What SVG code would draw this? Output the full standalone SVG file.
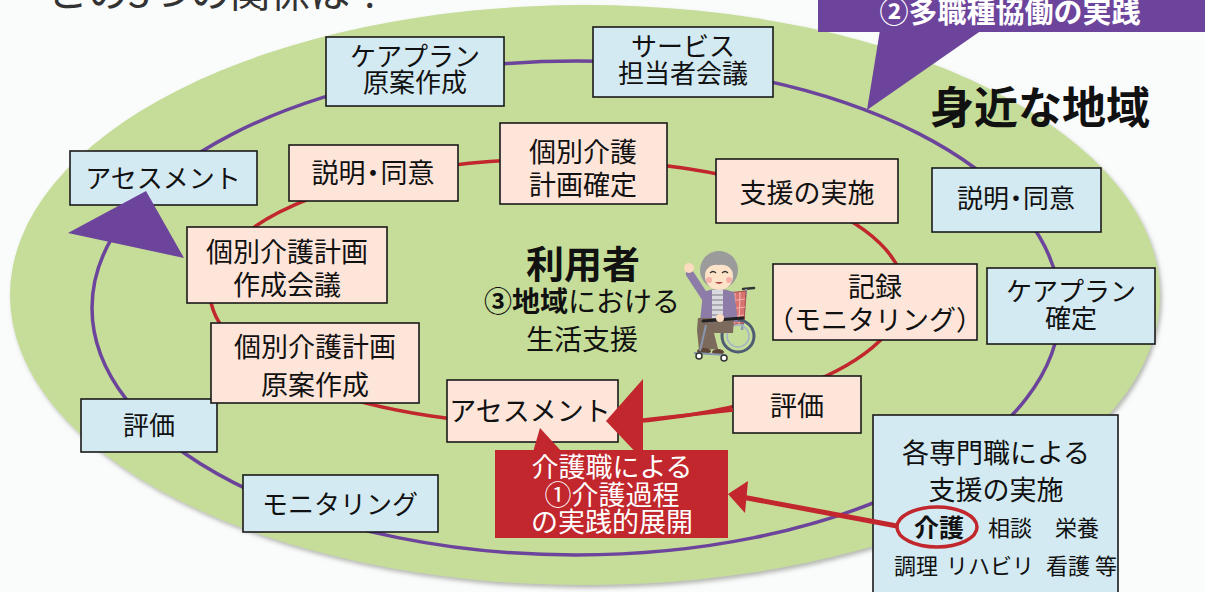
<svg xmlns="http://www.w3.org/2000/svg" width="1205" height="592" viewBox="0 0 1205 592">
  <defs>
    <style>
      text { font-family: "Noto Sans CJK JP", "Noto Sans", sans-serif; fill: #111; }
      .lbl { font-size: 26px; text-anchor: middle; }
      .lbp { font-size: 27px; text-anchor: middle; }
      .blue { fill: #d3eaf2; stroke: #1a1a1a; stroke-width: 1.6; }
      .pink { fill: #fde5d9; stroke: #1a1a1a; stroke-width: 1.6; }
      .ring-outer { fill: none; stroke: #6c449c; stroke-width: 3.5; }
      .ring-inner { fill: none; stroke: #c1272d; stroke-width: 3.5; }
      .white { fill: #ffffff; }
      .sm { font-size: 22px; text-anchor: middle; }
    </style>
    <filter id="soft-shadow" x="-5%" y="-5%" width="110%" height="115%">
      <feDropShadow dx="2" dy="3" stdDeviation="2" flood-color="#7d8275" flood-opacity="0.55"/>
    </filter>
  </defs>

  <!-- page background -->
  <rect x="0" y="0" width="1205" height="592" fill="#fafbfb"/>

  <!-- heading, partly above the top edge -->
  <text x="48" y="7" style="font-size:40px;fill:#333">この3つの関係は？</text>

  <!-- local area -->
  <ellipse id="area" cx="585" cy="295" rx="575" ry="290" fill="#c5dd98" filter="url(#soft-shadow)"/>

  <!-- cycle lines -->
  <g id="connectors">
    <ellipse class="ring-outer" cx="576" cy="308" rx="484" ry="247"/>
    <ellipse class="ring-inner" cx="557" cy="292" rx="347" ry="133"/>
  </g>

  <!-- outer cycle: team work -->
  <g id="n-careplan-draft">
    <rect class="blue" x="326" y="37" width="178" height="69"/>
    <text class="lbl" x="415" y="66">ケアプラン</text>
    <text class="lbl" x="415" y="92">原案作成</text>
  </g>
  <g id="n-service-meeting">
    <rect class="blue" x="593" y="27" width="180" height="70"/>
    <text class="lbl" x="683" y="56">サービス</text>
    <text class="lbl" x="683" y="83">担当者会議</text>
  </g>
  <g id="n-assess-outer">
    <rect class="blue" x="70" y="151" width="187" height="54"/>
    <text class="lbl" x="163" y="188">アセスメント</text>
  </g>
  <g id="n-explain-outer">
    <rect class="blue" x="932" y="168" width="169" height="64"/>
    <text class="lbl" x="1016" y="208">説明<tspan dx="-6">・</tspan><tspan dx="-6">同意</tspan></text>
  </g>
  <g id="n-careplan-fixed">
    <rect class="blue" x="987" y="268" width="168" height="76"/>
    <text class="lbl" x="1071" y="301">ケアプラン</text>
    <text class="lbl" x="1071" y="328">確定</text>
  </g>
  <g id="n-eval-outer">
    <rect class="blue" x="81" y="399" width="136" height="53"/>
    <text class="lbl" x="149" y="435">評価</text>
  </g>
  <g id="n-monitoring">
    <rect class="blue" x="243" y="475" width="195" height="57"/>
    <text class="lbl" x="340" y="514">モニタリング</text>
  </g>

  <!-- inner cycle: care process -->
  <g id="n-explain-inner">
    <rect class="pink" x="289" y="145" width="169" height="56"/>
    <text class="lbp" x="373" y="183">説明<tspan dx="-6">・</tspan><tspan dx="-6">同意</tspan></text>
  </g>
  <g id="n-plan-fixed">
    <rect class="pink" x="500" y="123" width="167" height="81"/>
    <text class="lbp" x="583" y="162">個別介護</text>
    <text class="lbp" x="583" y="195">計画確定</text>
  </g>
  <g id="n-support">
    <rect class="pink" x="716" y="159" width="182" height="64"/>
    <text class="lbp" x="807" y="203">支援の実施</text>
  </g>
  <g id="n-plan-meeting">
    <rect class="pink" x="187" y="227" width="200" height="76"/>
    <text class="lbp" x="287" y="262">個別介護計画</text>
    <text class="lbp" x="287" y="295">作成会議</text>
  </g>
  <g id="n-record">
    <rect class="pink" x="773" y="264" width="204" height="76"/>
    <text class="lbp" x="875" y="297">記録</text>
    <text class="lbp" x="875" y="330">（モニタリング）</text>
  </g>
  <g id="n-plan-draft">
    <rect class="pink" x="211" y="323" width="208" height="80"/>
    <text class="lbp" x="315" y="357">個別介護計画</text>
    <text class="lbp" x="315" y="395">原案作成</text>
  </g>
  <g id="n-assess-inner">
    <rect class="pink" x="447" y="380" width="171" height="62"/>
    <text class="lbp" x="530" y="421">アセスメント</text>
  </g>
  <g id="n-eval-inner">
    <rect class="pink" x="733" y="376" width="128" height="57"/>
    <text class="lbp" x="797" y="416">評価</text>
  </g>

  <!-- user in the middle -->
  <g id="n-user">
    <text x="583" y="278" style="font-size:38px;font-weight:bold;text-anchor:middle">利用者</text>
    <text x="582" y="312" style="font-size:28px;text-anchor:middle"><tspan font-weight="bold">③地域</tspan>における</text>
    <text x="582" y="350" style="font-size:28px;text-anchor:middle">生活支援</text>
  </g>

  <!-- person in a wheelchair -->
  <g id="wheelchair-user">
    <!-- chair back and handle -->
    <line x1="743" y1="289" x2="754" y2="288" stroke="#333" stroke-width="2.5" stroke-linecap="round"/>
    <line x1="746" y1="289" x2="742" y2="330" stroke="#8897ad" stroke-width="2.5"/>
    <path d="M727 293 L746 291 L744 323 L729 325 Z" fill="#d9736f" stroke="#a84f4d" stroke-width="1"/>
    <path d="M730 301 L745 299 M730 309 L745 307 M730 317 L744 315 M735 293 L734 324 M740 292 L739 324" stroke="#f2b3ad" stroke-width="1.2"/>
    <!-- big wheel -->
    <circle cx="738" cy="336" r="16" fill="none" stroke="#4f5d73" stroke-width="3"/>
    <circle cx="738" cy="336" r="11" fill="none" stroke="#a4b2c8" stroke-width="1.5"/>
    <!-- body -->
    <path d="M703 292 Q718 286 734 292 L738 322 L700 322 Z" fill="#8d7ba8"/>
    <rect x="712" y="290" width="11" height="30" fill="#d9d9df"/>
    <path d="M712 295 H723 M712 300 H723 M712 305 H723 M712 310 H723 M712 315 H723" stroke="#9a9aa4" stroke-width="1.5"/>
    <!-- legs -->
    <path d="M698 318 L734 318 L733 333 L714 333 L718 349 L699 350 L697 330 Z" fill="#7c6a5c"/>
    <ellipse cx="704" cy="351" rx="7" ry="3" fill="#5e4636"/>
    <ellipse cx="718" cy="352" rx="6" ry="3" fill="#5e4636"/>
    <!-- armrest and front frame -->
    <line x1="703" y1="321" x2="743" y2="318" stroke="#222" stroke-width="3" stroke-linecap="round"/>
    <line x1="706" y1="325" x2="700" y2="351" stroke="#8897ad" stroke-width="2"/>
    <line x1="694" y1="353" x2="726" y2="355" stroke="#8897ad" stroke-width="2"/>
    <circle cx="699" cy="356" r="3" fill="#fff" stroke="#333" stroke-width="1.5"/>
    <circle cx="724" cy="358" r="3" fill="#fff" stroke="#333" stroke-width="1.5"/>
    <!-- raised arm -->
    <path d="M705 297 L690 274" stroke="#8d7ba8" stroke-width="8" stroke-linecap="round"/>
    <circle cx="689" cy="268" r="5" fill="#fbdcc0"/>
    <circle cx="720" cy="318" r="4" fill="#fbdcc0"/>
    <!-- head -->
    <circle cx="719" cy="270" r="19" fill="#9b9b9b"/>
    <ellipse cx="719" cy="276" rx="14" ry="14" fill="#fde3c8"/>
    <path d="M705 272 Q711 257 719 262 Q728 257 733 272 Q728 263 719 265 Q710 263 705 272 Z" fill="#9b9b9b"/>
    <path d="M710 273 q3 -3 6 0 M722 273 q3 -3 6 0" fill="none" stroke="#333" stroke-width="1.3"/>
    <circle cx="709" cy="280" r="3" fill="#f6b1a8"/>
    <circle cx="729" cy="280" r="3" fill="#f6b1a8"/>
    <path d="M715 282 q4 4 8 0 Z" fill="#b84a4a"/>
  </g>

  <!-- multi-profession box -->
  <g id="n-professions">
    <rect class="blue" x="873" y="415" width="245" height="190"/>
    <text x="996" y="463" style="font-size:27px;text-anchor:middle">各専門職による</text>
    <text x="996" y="500" style="font-size:27px;text-anchor:middle">支援の実施</text>
    <text x="939" y="537" style="font-size:25px;font-weight:bold;text-anchor:middle">介護</text>
    <text class="sm" x="1010" y="536">相談</text>
    <text class="sm" x="1077" y="536">栄養</text>
    <text class="sm" x="916" y="574">調理</text>
    <text class="sm" x="990" y="574">リハビリ</text>
    <text class="sm" x="1068" y="574">看護</text>
    <text class="sm" x="1106" y="574">等</text>
    <ellipse cx="937" cy="527" rx="40" ry="20" fill="none" stroke="#c1272d" stroke-width="3.5"/>
  </g>

  <!-- place label -->
  <text id="t-area" x="930" y="124" style="font-size:44px;font-weight:bold">身近な地域</text>

  <!-- heads and pointers drawn over the boxes -->
  <g id="connector-heads">
    <polygon points="68,233 146,191 184,258" fill="#6c449c"/>
    <polygon points="606,421 643,379 643,460" fill="#c1272d"/>
    <line x1="643" y1="420" x2="733" y2="410" stroke="#c1272d" stroke-width="3.5"/>
    <line x1="897" y1="526" x2="742" y2="497" stroke="#c1272d" stroke-width="5"/>
    <polygon points="728,494 748,481 745,513" fill="#c1272d"/>
  </g>

  <!-- callout: care process -->
  <g id="n-callout">
    <polygon points="540,428 533,452 562,452" fill="#c1272d"/>
    <rect x="495" y="450" width="233" height="88" fill="#c1272d"/>
    <text class="white" x="612" y="477" style="font-size:27px;text-anchor:middle">介護職による</text>
    <text class="white" x="612" y="505" style="font-size:27px;text-anchor:middle">①介護過程</text>
    <text class="white" x="612" y="532" style="font-size:27px;text-anchor:middle">の実践的展開</text>
  </g>

  <!-- banner: team work -->
  <g id="n-banner">
    <polygon points="880,30 982,30 867,110" fill="#6c449c"/>
    <rect x="818" y="-5" width="392" height="37" fill="#6c449c"/>
    <text class="white" x="1010" y="23" style="font-size:29px;font-weight:bold;text-anchor:middle">②多職種協働の実践</text>
  </g>
</svg>
